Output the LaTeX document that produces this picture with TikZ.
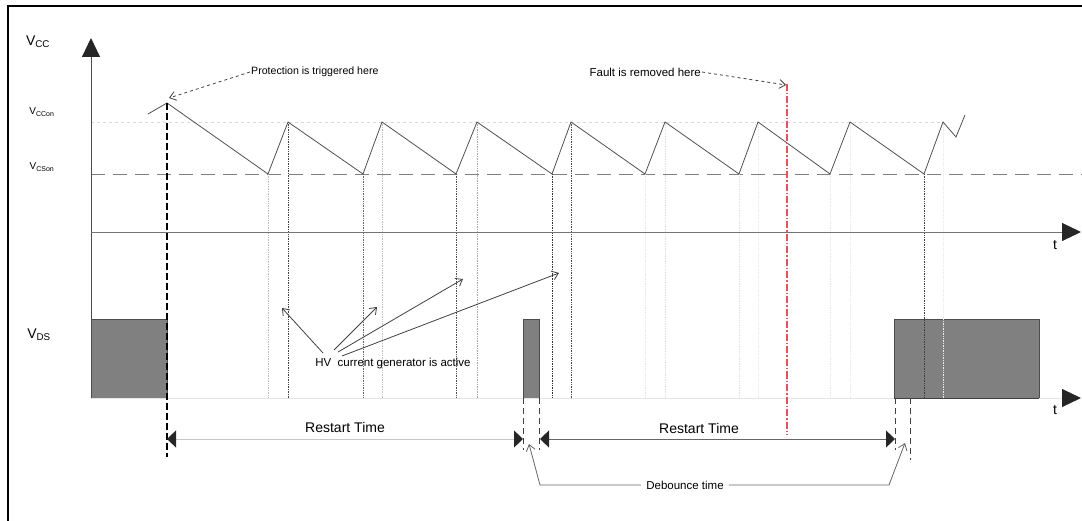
\documentclass[tikz,border=0pt]{standalone}
\usepackage{fontspec}
\setmainfont{Liberation Sans}
\usetikzlibrary{arrows.meta}

\definecolor{wave}{HTML}{505050}
\definecolor{pulse}{HTML}{808080}
\definecolor{fault}{HTML}{E8505A}

\tikzset{
	lbl/.style={font=\fontsize{11.5}{13}\selectfont, inner sep=1pt},
	big/.style={font=\fontsize{14}{16}\selectfont, inner sep=1pt},
	small/.style={font=\fontsize{10}{12}\selectfont, inner sep=1pt},
	axisline/.style={line width=0.9pt, -{Triangle[length=19pt,width=18pt,color=black!85]}},
	pulsebox/.style={fill=pulse, draw=black!70, line width=0.8pt},
	guide/.style={densely dotted, line width=0.7pt},
	marker/.style={black!75, line width=0.9pt, dash pattern=on 6pt off 4pt},
	span/.style={line width=1pt, {Triangle[length=9pt,width=17pt,color=black!85]}-{Triangle[length=9pt,width=17pt,color=black!85]}},
	pointer/.style={black!75, line width=0.8pt, -{Straight Barb[length=6pt,width=9pt]}}
}

\begin{document}
\begin{tikzpicture}[x=1pt,y=-1pt]
	\useasboundingbox (0,0) rectangle (1082,521);
	\draw[line width=1.3pt] (8,521) -- (8,6) -- (1082,6);

	% levels
	\draw[black!15, dashed, line width=0.7pt] (91,122) -- (943,122);
	\draw[black!50, line width=0.9pt, dash pattern=on 14pt off 8pt] (91,174) -- (1082,174);

	% V_DS pulses
	\draw[pulsebox] (91,319) rectangle (167,398);
	\draw[pulsebox] (523,319) rectangle (539,398);
	\draw[pulsebox] (894,319) rectangle (1039,398);

	% guides at valleys and peaks
	\draw[guide, black!25] (268,174) -- (268,398);
	\draw[guide, black!75] (288,122) -- (288,398);
	\draw[guide, black!60] (363,174) -- (363,398);
	\draw[guide, black!25] (382,122) -- (382,398);
	\draw[guide, black!70] (456,174) -- (456,398);
	\draw[guide, black!35] (477,122) -- (477,398);
	\draw[guide, black!80] (552,174) -- (552,398);
	\draw[guide, black!70] (571,122) -- (571,398);
	\draw[guide, black!10] (645,174) -- (645,398);
	\draw[guide, black!12] (665,122) -- (665,398);
	\draw[guide, black!12] (739,174) -- (739,398);
	\draw[guide, black!8] (758,122) -- (758,398);
	\draw[guide, black!10] (830,174) -- (830,398);
	\draw[guide, black!8] (850,122) -- (850,398);
	\draw[guide, black!75] (924,174) -- (924,398);
	\draw[guide, black!8] (943,122) -- (943,398);

	% axes
	\draw[axisline, draw=black!70] (91,398) -- (91,38);
	\draw[axisline, draw=black!55] (91,232) -- (1081,232);
	\draw[axisline, draw=black!10] (91,398) -- (1081,398);
	\draw[black!75, line width=0.9pt] (894,398) -- (1039,398);
	\node[big] (t1) at (1055,245) {t};
	\node[big] (t2) at (1055,410) {t};

	% V_CC sawtooth
	\draw[wave, line width=0.8pt] (148,114) -- (167,103) -- (268,174) -- (288,122) -- (363,174) -- (382,122)
		-- (456,174) -- (477,122) -- (552,174) -- (571,122) -- (645,174) -- (665,122) -- (739,174)
		-- (758,122) -- (830,174) -- (850,122) -- (924,174) -- (943,122) -- (956,137) -- (965,115);

	% markers
	\draw[black, line width=1.1pt, dash pattern=on 7pt off 3pt] (167,103) -- (167,457);
	\draw[marker] (523,398) -- (523,450);
	\draw[marker] (539,398) -- (539,450);
	\draw[marker] (895,398) -- (895,450);
	\draw[marker] (910,398) -- (910,460);
	\draw[fault, line width=1.2pt, dash pattern=on 7pt off 2pt on 1.5pt off 2pt] (787,84) -- (787,435);

	% labels
	\node[big] (vcc) at (38,42) {V\textsubscript{CC}};
	\node[small] (vccon) at (42,112) {V\textsubscript{CCon}};
	\node[small] (vcson) at (42,167) {V\textsubscript{CSon}};
	\node[big] (vds) at (39,335) {V\textsubscript{DS}};

	\node[lbl, anchor=west, font=\fontsize{10.6}{12}\selectfont] (prot) at (250,72) {Protection is triggered here};
	\coordinate (trig) at (169,98);
	\draw[pointer, dashed] (prot.west) -- (trig);

	\node[lbl, anchor=east] (fault) at (702,72) {Fault is removed here};
	\coordinate (removed) at (786,85);
	\draw[pointer, dashed] (fault.east) -- (removed);

	\node[lbl] (hv) at (393,364) {HV\ \ current generator is active};
	\coordinate (hva) at (282,308);
	\coordinate (hvb) at (377,307);
	\coordinate (hvc) at (463,279);
	\coordinate (hvd) at (559,273);
	\draw[pointer] (323,353) -- (hva);
	\draw[pointer] (334,350) -- (hvb);
	\draw[pointer] (338,352) -- (hvc);
	\draw[pointer] (342,356) -- (hvd);

	% restart and debounce
	\coordinate (rs1) at (167,439);
	\coordinate (re1) at (523,439);
	\coordinate (rs2) at (540,439);
	\coordinate (re2) at (895,439);
	\draw[span, draw=black!22] (rs1) -- (re1);
	\draw[span, draw=black!60] (rs2) -- (re2);
	\node[big] (rt1) at (345,427) {Restart Time};
	\node[big] (rt2) at (699,428) {Restart Time};

	\node[lbl] (deb) at (685,485) {Debounce time};
	\coordinate (db1) at (529,444);
	\coordinate (db2) at (905,443);
	\draw[pointer, black!60] ([xshift=-4pt]deb.west) -- (540,485) -- (db1);
	\draw[pointer, black!60] ([xshift=4pt]deb.east) -- (889,485) -- (db2);
\end{tikzpicture}
\end{document}
